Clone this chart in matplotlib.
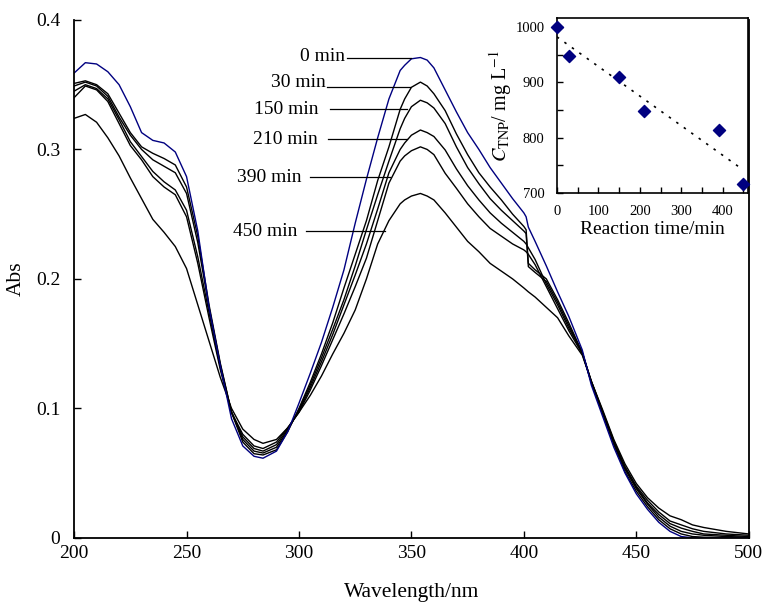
import numpy as np
import matplotlib
matplotlib.use("Agg")
import matplotlib.pyplot as plt

plt.rcParams['font.family'] = ['Liberation Serif', 'DejaVu Serif']
plt.rcParams['mathtext.fontset'] = 'stix'

# ===============================
# Spectra
# ===============================
wavelength = [200, 205, 210, 215, 220, 225, 230, 235, 240, 245,
              250, 255, 260, 265, 270, 275, 280, 284, 290, 295,
              300, 305, 310, 315, 320, 325, 330, 335, 340, 345,
              347, 350, 354, 357, 360, 365, 370, 375, 380, 385, 390, 395,
              400, 401, 402, 405, 410, 415, 420, 426, 430, 435,
              440, 445, 450, 455, 460, 465, 470, 475, 480, 490, 500]

abs_0 = [0.359, 0.367, 0.366, 0.360, 0.350, 0.333, 0.313, 0.307, 0.305, 0.298,
         0.279, 0.237, 0.178, 0.133, 0.092, 0.071, 0.063, 0.0615, 0.067, 0.082,
         0.104, 0.127, 0.151, 0.178, 0.207, 0.243, 0.277, 0.309, 0.339, 0.361,
         0.365, 0.370, 0.371, 0.369, 0.363, 0.346, 0.329, 0.313, 0.300, 0.286, 0.274, 0.262,
         0.251, 0.248, 0.240, 0.229, 0.210, 0.190, 0.171, 0.145, 0.118, 0.094,
         0.070, 0.050, 0.034, 0.022, 0.012, 0.005, 0.001, 0.0, 0.0, 0.0, 0.0]

abs_30 = [0.351, 0.353, 0.350, 0.343, 0.328, 0.313, 0.302, 0.297, 0.293, 0.288,
          0.271, 0.233, 0.180, 0.135, 0.097, 0.074, 0.065, 0.064, 0.068, 0.082,
          0.100, 0.120, 0.142, 0.166, 0.193, 0.219, 0.245, 0.276, 0.302, 0.331,
          0.339, 0.348, 0.352, 0.349, 0.343, 0.330, 0.312, 0.296, 0.282, 0.271, 0.261, 0.250,
          0.2405, 0.238, 0.212, 0.207, 0.200, 0.184, 0.166, 0.143, 0.120, 0.096,
          0.072, 0.051, 0.036, 0.024, 0.014, 0.007, 0.003, 0.001, 0.0005, 0.0, 0.0]

abs_150 = [0.349, 0.352, 0.349, 0.341, 0.325, 0.311, 0.300, 0.292, 0.287, 0.282,
           0.266, 0.228, 0.178, 0.134, 0.097, 0.076, 0.067, 0.0655, 0.070, 0.083,
           0.099, 0.118, 0.139, 0.161, 0.184, 0.210, 0.238, 0.265, 0.291, 0.316,
           0.324, 0.333, 0.338, 0.336, 0.332, 0.320, 0.302, 0.286, 0.2735, 0.262, 0.253, 0.245,
           0.237, 0.235, 0.2095, 0.205, 0.198, 0.182, 0.164, 0.143, 0.120, 0.097,
           0.073, 0.053, 0.038, 0.026, 0.016, 0.009, 0.005, 0.003, 0.002, 0.001, 0.0005]

abs_210 = [0.345, 0.350, 0.347, 0.339, 0.323, 0.306, 0.2945, 0.283, 0.275, 0.2687,
           0.253, 0.217, 0.174, 0.132, 0.097, 0.078, 0.069, 0.067, 0.072, 0.084,
           0.098, 0.116, 0.136, 0.157, 0.180, 0.203, 0.227, 0.254, 0.282, 0.300,
           0.305, 0.311, 0.315, 0.313, 0.310, 0.2996, 0.285, 0.272, 0.261, 0.251, 0.243, 0.236,
           0.229, 0.227, 0.224, 0.215, 0.196, 0.180, 0.162, 0.143, 0.121, 0.097,
           0.074, 0.054, 0.039, 0.027, 0.018, 0.011, 0.0075, 0.005, 0.003, 0.002, 0.001]

abs_390 = [0.340, 0.349, 0.346, 0.337, 0.320, 0.303, 0.292, 0.279, 0.271, 0.265,
           0.248, 0.212, 0.170, 0.130, 0.097, 0.080, 0.071, 0.069, 0.074, 0.085,
           0.097, 0.114, 0.133, 0.153, 0.173, 0.194, 0.216, 0.245, 0.274, 0.291,
           0.295, 0.299, 0.302, 0.300, 0.296, 0.2816, 0.270, 0.258, 0.248, 0.239, 0.233, 0.227,
           0.2224, 0.221, 0.219, 0.211, 0.194, 0.177, 0.160, 0.142, 0.121, 0.098,
           0.075, 0.055, 0.040, 0.029, 0.020, 0.013, 0.010, 0.007, 0.005, 0.003, 0.002]

abs_450 = [0.324, 0.327, 0.321, 0.309, 0.295, 0.278, 0.262, 0.246, 0.236, 0.225,
           0.208, 0.180, 0.152, 0.124, 0.100, 0.084, 0.076, 0.073, 0.076, 0.085,
           0.097, 0.110, 0.125, 0.142, 0.158, 0.176, 0.200, 0.227, 0.245, 0.258,
           0.261, 0.264, 0.266, 0.264, 0.261, 0.251, 0.240, 0.229, 0.221, 0.212, 0.206, 0.200,
           0.193, 0.1915, 0.190, 0.186, 0.178, 0.170, 0.156, 0.141, 0.121, 0.099,
           0.076, 0.057, 0.042, 0.031, 0.023, 0.017, 0.014, 0.010, 0.008, 0.005, 0.003]

spectra = [abs_0, abs_30, abs_150, abs_210, abs_390, abs_450]
curve_labels = ["0 min", "30 min", "150 min", "210 min", "390 min", "450 min"]
curve_colors = ["#000080", "black", "black", "black", "black", "black"]

# label text end, leader line start/end (nm), leader height, text height
label_spots = [
    (320.5, 321.5, 350.0, 0.371, 0.372),
    (312.0, 312.6, 349.3, 0.3485, 0.352),
    (308.5, 313.8, 347.9, 0.331, 0.331),
    (308.5, 312.9, 347.9, 0.308, 0.308),
    (301.0, 304.9, 340.4, 0.2785, 0.2785),
    (299.5, 303.1, 338.2, 0.237, 0.237),
]

# ===============================
# Inset data: TNP concentration
# ===============================
time_min = [0, 30, 150, 210, 390, 450]
c_tnp = [1000, 948, 910, 848, 813, 716]

# ===============================
# Main plot
# ===============================
fig = plt.figure(figsize=(7.64, 6.05), dpi=100)
ax = fig.add_axes([0.097, 0.111, 0.883, 0.856])

for y, col in zip(spectra[::-1], curve_colors[::-1]):
    ax.plot(wavelength, y, color=col, lw=1.0)

for lab, (tx, x0, x1, ly, ty) in zip(curve_labels, label_spots):
    ax.plot([x0, x1], [ly, ly], color='black', lw=0.9)
    ax.text(tx, ty, lab, ha='right', va='center', fontsize=14)

ax.set_xlim(200, 500)
ax.set_ylim(0, 0.4)
ax.set_xticks(range(200, 501, 50))
ax.set_yticks([0, 0.1, 0.2, 0.3, 0.4])
ax.set_yticklabels(["0", "0.1", "0.2", "0.3", "0.4"])
ax.tick_params(direction='in', length=5, width=1, labelsize=14)
ax.tick_params(axis='y', pad=10)
ax.tick_params(axis='x', pad=5)
ax.spines['top'].set_visible(False)
for s in ['left', 'bottom', 'right']:
    ax.spines[s].set_linewidth(1.3)
ax.set_xlabel("Wavelength/nm", fontsize=15.5, labelpad=15)
ax.set_ylabel("Abs", fontsize=15.5, labelpad=7)

# ===============================
# Inset
# ===============================
ins = fig.add_axes([0.729, 0.681, 0.250, 0.289])
ins.scatter(time_min, c_tnp, marker='D', s=38, color='#000080', zorder=3, clip_on=False)

slope, icpt = np.polyfit(time_min, c_tnp, 1)
tt = np.array([0, 440])
ins.plot(tt, slope * tt + icpt, color='black', ls=(0, (1.5, 4)), lw=1.2)

ins.set_xlim(0, 461)
ins.set_ylim(700, 1016)
ins.set_xticks(range(0, 401, 100))
ins.set_xticks(range(50, 451, 100), minor=True)
ins.set_yticks(range(700, 1001, 100))
ins.set_yticks(range(750, 1000, 100), minor=True)
ins.tick_params(which='both', direction='in', length=4, width=1, labelsize=10.5)
ins.tick_params(axis='x', pad=9)
ins.tick_params(axis='y', pad=9)
for s in ins.spines.values():
    s.set_linewidth(1.2)
ins.set_xlabel("Reaction time/min", fontsize=14, labelpad=2)
ins.set_ylabel(r"$\mathit{C}_{\mathrm{TNP}}$/ mg L$^{-1}$", fontsize=14.5, labelpad=1)

fig.savefig("out.png", dpi=100)
